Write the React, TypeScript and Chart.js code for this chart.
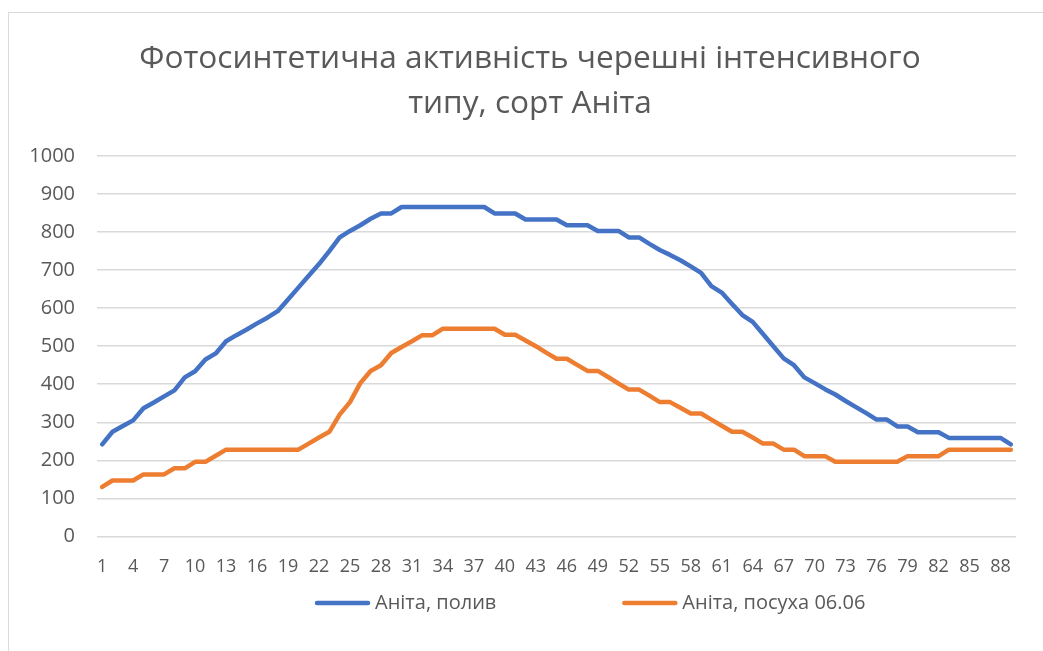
import React, { useEffect, useRef } from "react";
import { Chart, registerables } from "chart.js";

Chart.register(...registerables);

const titleLines = ["Фотосинтетична активність черешні інтенсивного", "типу, сорт Аніта"];

const categories = [
  "1", "2", "3", "4", "5", "6", "7", "8", "9", "10",
  "11", "12", "13", "14", "15", "16", "17", "18", "19", "20",
  "21", "22", "23", "24", "25", "26", "27", "28", "29", "30",
  "31", "32", "33", "34", "35", "36", "37", "38", "39", "40",
  "41", "42", "43", "44", "45", "46", "47", "48", "49", "50",
  "51", "52", "53", "54", "55", "56", "57", "58", "59", "60",
  "61", "62", "63", "64", "65", "66", "67", "68", "69", "70",
  "71", "72", "73", "74", "75", "76", "77", "78", "79", "80",
  "81", "82", "83", "84", "85", "86", "87", "88", "89",
];

const seriesNames = ["Аніта, полив", "Аніта, посуха 06.06"];

const irrigated = [
  242, 275, 290, 305, 337, 352, 368, 384, 418, 434,
  465, 481, 513, 529, 544, 560, 575, 592, 623, 654,
  685, 716, 750, 786, 803, 818, 835, 849, 849, 866,
  866, 866, 866, 866, 866, 866, 866, 866, 849, 849,
  849, 833, 833, 833, 833, 818, 818, 818, 803, 803,
  803, 786, 786, 769, 753, 740, 726, 710, 693, 658,
  641, 611, 582, 564, 532, 500, 468, 450, 418, 403,
  387, 373, 356, 340, 324, 307, 307, 289, 289, 274,
  274, 274, 259, 259, 259, 259, 259, 259, 242,
];

const drought = [
  130, 147, 147, 147, 163, 163, 163, 179, 179, 196,
  196, 212, 228, 228, 228, 228, 228, 228, 228, 228,
  244, 260, 275, 320, 353, 403, 435, 450, 482, 498,
  513, 529, 529, 546, 546, 546, 546, 546, 546, 530,
  530, 515, 500, 483, 467, 467, 451, 435, 435, 419,
  402, 386, 386, 370, 353, 353, 338, 323, 323, 307,
  291, 275, 275, 260, 244, 244, 228, 228, 211, 211,
  211, 196, 196, 196, 196, 196, 196, 196, 211, 211,
  211, 211, 228, 228, 228, 228, 228, 228, 228,
];

const yTicks = { min: 0, max: 1000, step: 100 };

const FONT = "'Open Sans', 'Liberation Sans', sans-serif";
const TEXT = "#595959";
const BLUE = "#4472C4";
const ORANGE = "#ED7D31";

const bottomLegend = {
  id: "bottomLegend",
  afterDraw(chart: any) {
    const ctx = chart.ctx;
    const y = 590;
    let x = 306;
    ctx.save();
    ctx.font = `20px ${FONT}`;
    ctx.textBaseline = "middle";
    ctx.textAlign = "left";
    chart.data.datasets.forEach((ds: any) => {
      ctx.strokeStyle = ds.borderColor;
      ctx.lineWidth = 4.5;
      ctx.lineCap = "round";
      ctx.beginPath();
      ctx.moveTo(x + 2, y);
      ctx.lineTo(x + 53, y);
      ctx.stroke();
      ctx.fillStyle = TEXT;
      ctx.fillText(ds.label, x + 60, y);
      const w = ctx.measureText(ds.label).width;
      x += 60 + w + 126;
    });
    ctx.restore();
  },
};

export default function App() {
  const ref = useRef<HTMLCanvasElement | null>(null);

  useEffect(() => {
    if (!ref.current) return;
    const chart = new Chart(ref.current, {
      type: "line",
      data: {
        labels: categories,
        datasets: [
          {
            label: seriesNames[0],
            data: irrigated,
            borderColor: BLUE,
            backgroundColor: BLUE,
            borderWidth: 4.5,
            borderCapStyle: "round",
            borderJoinStyle: "round",
            pointRadius: 0,
            tension: 0,
          },
          {
            label: seriesNames[1],
            data: drought,
            borderColor: ORANGE,
            backgroundColor: ORANGE,
            borderWidth: 4.5,
            borderCapStyle: "round",
            borderJoinStyle: "round",
            pointRadius: 0,
            tension: 0,
          },
        ],
      },
      options: {
        animation: false,
        responsive: false,
        maintainAspectRatio: false,
        layout: { padding: { left: 0, right: 0, top: 0, bottom: 75 } },
        plugins: {
          legend: { display: false },
          tooltip: { enabled: false },
          title: {
            display: true,
            text: titleLines,
            color: TEXT,
            font: { family: FONT, size: 31.6, weight: "normal", lineHeight: 45 / 31.6 },
            padding: { top: 23, bottom: 30 },
          },
        },
        scales: {
          x: {
            type: "category",
            offset: true,
            grid: { display: false, drawTicks: false },
            border: { display: false },
            ticks: {
              autoSkip: false,
              maxRotation: 0,
              minRotation: 0,
              padding: 20,
              color: TEXT,
              font: { family: FONT, size: 18 },
              callback: (_v: any, i: number) => (i % 3 === 0 ? categories[i] : ""),
            },
          },
          y: {
            min: yTicks.min,
            max: yTicks.max,
            grid: { color: "#d9d9d9", lineWidth: 1.5, drawTicks: false },
            border: { display: false },
            ticks: {
              stepSize: yTicks.step,
              padding: 22,
              color: TEXT,
              font: { family: FONT, size: 20 },
              callback: (v: any) => String(v),
            },
            afterFit: (scale: any) => {
              scale.width = 88;
            },
          },
          yRight: {
            position: "right",
            min: yTicks.min,
            max: yTicks.max,
            grid: { display: false, drawTicks: false },
            border: { display: false },
            ticks: { display: false },
            afterFit: (scale: any) => {
              scale.width = 35;
            },
          },
        },
      },
      plugins: [bottomLegend],
    });
    return () => chart.destroy();
  }, []);

  return (
    <div
      style={{
        position: "fixed",
        left: 0,
        top: 0,
        width: 1043,
        height: 651,
        overflow: "hidden",
        background: "#fff",
      }}
    >
      <div
        style={{
          position: "absolute",
          left: 8,
          top: 12,
          border: "1px solid #d9d9d9",
          width: 1042,
          height: 660,
        }}
      >
        <canvas ref={ref} width={1042} height={660} style={{ display: "block", width: 1042, height: 660 }} />
      </div>
    </div>
  );
}
